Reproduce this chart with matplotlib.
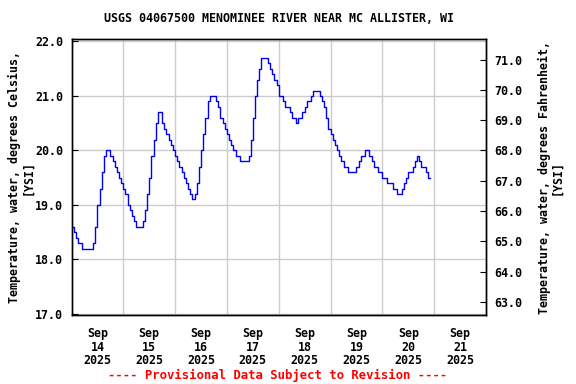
import numpy as np
import matplotlib
matplotlib.use("Agg")
import matplotlib.pyplot as plt

title = "USGS 04067500 MENOMINEE RIVER NEAR MC ALLISTER, WI"
ylabel_c = "Temperature, water, degrees Celsius,\n[YSI]"
ylabel_f = "Temperature, water, degrees Fahrenheit,\n[YSI]"
footer = "---- Provisional Data Subject to Revision ----"

start = np.datetime64("2025-09-14T00:00")
temps_c = [
    18.6, 18.5, 18.4, 18.3, 18.3, 18.2, 18.2, 18.2, 18.2, 18.2,
    18.3, 18.6, 19.0, 19.3, 19.6, 19.9, 20.0, 20.0, 19.9, 19.8,
    19.7, 19.6, 19.5, 19.4, 19.3, 19.2, 19.0, 18.9, 18.8, 18.7,
    18.6, 18.6, 18.6, 18.7, 18.9, 19.2, 19.5, 19.9, 20.2, 20.5,
    20.7, 20.7, 20.5, 20.4, 20.3, 20.2, 20.1, 20.0, 19.9, 19.8,
    19.7, 19.6, 19.5, 19.4, 19.3, 19.2, 19.1, 19.2, 19.4, 19.7,
    20.0, 20.3, 20.6, 20.9, 21.0, 21.0, 21.0, 20.9, 20.8, 20.6,
    20.5, 20.4, 20.3, 20.2, 20.1, 20.0, 19.9, 19.9, 19.8, 19.8,
    19.8, 19.8, 19.9, 20.2, 20.6, 21.0, 21.3, 21.5, 21.7, 21.7,
    21.7, 21.6, 21.5, 21.4, 21.3, 21.2, 21.0, 21.0, 20.9, 20.8,
    20.8, 20.7, 20.6, 20.6, 20.5, 20.6, 20.6, 20.7, 20.8, 20.9,
    20.9, 21.0, 21.1, 21.1, 21.1, 21.0, 20.9, 20.8, 20.6, 20.4,
    20.3, 20.2, 20.1, 20.0, 19.9, 19.8, 19.7, 19.7, 19.6, 19.6,
    19.6, 19.6, 19.7, 19.8, 19.9, 19.9, 20.0, 20.0, 19.9, 19.8,
    19.7, 19.7, 19.6, 19.6, 19.5, 19.5, 19.4, 19.4, 19.4, 19.3,
    19.3, 19.2, 19.2, 19.3, 19.4, 19.5, 19.6, 19.6, 19.7, 19.8,
    19.9, 19.8, 19.7, 19.7, 19.6, 19.5, 19.5,
]
times = start + np.arange(len(temps_c)) * np.timedelta64(1, "h")

day_labels = ["Sep\n14\n2025", "Sep\n15\n2025", "Sep\n16\n2025", "Sep\n17\n2025",
              "Sep\n18\n2025", "Sep\n19\n2025", "Sep\n20\n2025", "Sep\n21\n2025"]
c_ticks = [17.0, 18.0, 19.0, 20.0, 21.0, 22.0]
f_ticks = [63.0, 64.0, 65.0, 66.0, 67.0, 68.0, 69.0, 70.0, 71.0]

plt.rcParams["font.family"] = ["DejaVu Sans Mono"]
plt.rcParams["font.weight"] = "bold"
FS = 8.4

fig = plt.figure(figsize=(5.76, 3.84), dpi=100)
ax = fig.add_axes([71.5 / 576, 1 - 315 / 384, (486 - 71.5) / 576, (315 - 39.3) / 384])

t_dt = times.astype("datetime64[m]").astype(object)
ax.plot(t_dt, temps_c, color="#0000ff", lw=1.0, drawstyle="steps-post", zorder=3)

x0 = np.datetime64("2025-09-14T00:00").astype(object)
x1 = np.datetime64("2025-09-22T00:00").astype(object)
ax.set_xlim(x0, x1)
ylo, yhi = 16.98, 22.04
ax.set_ylim(ylo, yhi)

noons = [(np.datetime64("2025-09-14T12:00") + np.timedelta64(i, "D")).astype(object) for i in range(8)]
mids = [(np.datetime64("2025-09-15T00:00") + np.timedelta64(i, "D")).astype(object) for i in range(7)]
ax.set_xticks(noons)
ax.set_xticklabels(day_labels, fontsize=FS, fontweight="bold", linespacing=1.05)
ax.set_xticks(mids, minor=True)
ax.tick_params(axis="x", which="major", length=0, pad=9)
ax.tick_params(axis="x", which="minor", length=0)
ax.grid(True, which="minor", axis="x", color="#cccccc", lw=1.0)
ax.set_yticks(c_ticks)
ax.set_yticklabels([f"{v:.1f}" for v in c_ticks], fontsize=FS, fontweight="bold")
ax.tick_params(axis="y", direction="in", length=4, pad=6)
ax.grid(True, which="major", axis="y", color="#cccccc", lw=1.0)
ax.set_ylabel(ylabel_c, fontsize=FS, fontweight="bold", labelpad=0.5, linespacing=1.0)

ax2 = ax.twinx()
ax2.set_ylim(ylo * 1.8 + 32, yhi * 1.8 + 32)
ax2.set_yticks(f_ticks)
ax2.set_yticklabels([f"{v:.1f}" for v in f_ticks], fontsize=FS, fontweight="bold")
ax2.tick_params(axis="y", direction="in", length=4, pad=6)
ax2.set_ylabel(ylabel_f, fontsize=FS, fontweight="bold", labelpad=11, linespacing=1.0)

for a in (ax, ax2):
    for s in a.spines.values():
        s.set_linewidth(1.0)
        s.set_color("black")

fig.text(278.7 / 576, 1 - 19 / 384, title, ha="center", va="center", fontsize=FS, fontweight="bold")
fig.text(278 / 576, 1 - 375 / 384, footer, ha="center", va="center", fontsize=FS + 0.4,
         fontweight="bold", color="#ff0000")

fig.savefig("out.png", dpi=100)
